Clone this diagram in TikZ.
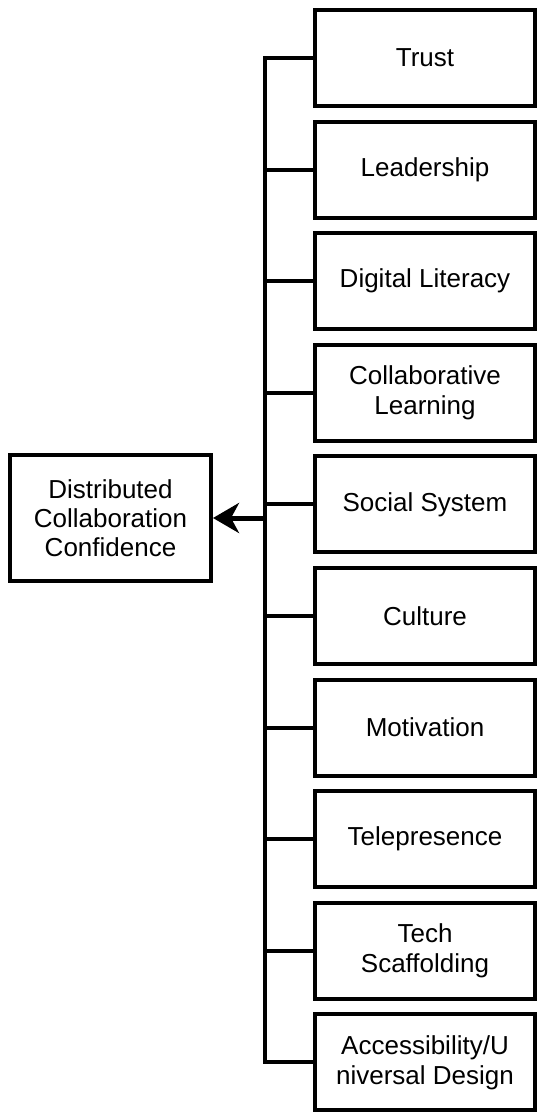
\documentclass[tikz,border=0pt]{standalone}
\usepackage{fontspec}
\setmainfont{Liberation Sans}
\usetikzlibrary{arrows.meta}
\begin{document}
\begin{tikzpicture}[x=1pt,y=-1pt,
  factor/.style={draw=black,line width=4pt,fill=white,minimum width=220pt,minimum height=96pt,
    align=center,inner sep=0pt,font=\fontsize{26}{30}\selectfont},
  target/.style={draw=black,line width=4pt,fill=white,minimum width=201pt,minimum height=126pt,
    align=center,inner sep=0pt,font=\fontsize{26}{29}\selectfont},
  link/.style={draw=black,line width=4pt},
  outarrow/.style={draw=black,line width=5pt,-{Stealth[length=26pt,width=30pt,inset=8pt]}}]
\useasboundingbox (0,0) rectangle (537,1113);
\fill[white] (0,0) rectangle (537,1113);
\node[factor] (f1) at (425,58) {Trust};
\node[factor] (f2) at (425,169.6) {Leadership};
\node[factor] (f3) at (425,281.2) {Digital Literacy};
\node[factor] (f4) at (425,392.8) {Collaborative\\Learning};
\node[factor] (f5) at (425,504.4) {Social System};
\node[factor] (f6) at (425,616) {Culture};
\node[factor] (f7) at (425,727.6) {Motivation};
\node[factor] (f8) at (425,839.2) {Telepresence};
\node[factor] (f9) at (425,950.8) {Tech\\Scaffolding};
\node[factor] (f10) at (425,1062.4) {Accessibility/U\\niversal Design};
\node[target] (dcc) at (110.5,518) {Distributed\\Collaboration\\Confidence};
\coordinate (j) at (265,518);
\draw[link,line join=miter] (f1.west) -- (265,58) -- (265,1062.4) -- (f10.west);
\foreach \i in {2,...,9} {\draw[link] (f\i.west) -- (265,0 |- f\i.west);}
\draw[outarrow] (j) -- (dcc.east);
\end{tikzpicture}
\end{document}
